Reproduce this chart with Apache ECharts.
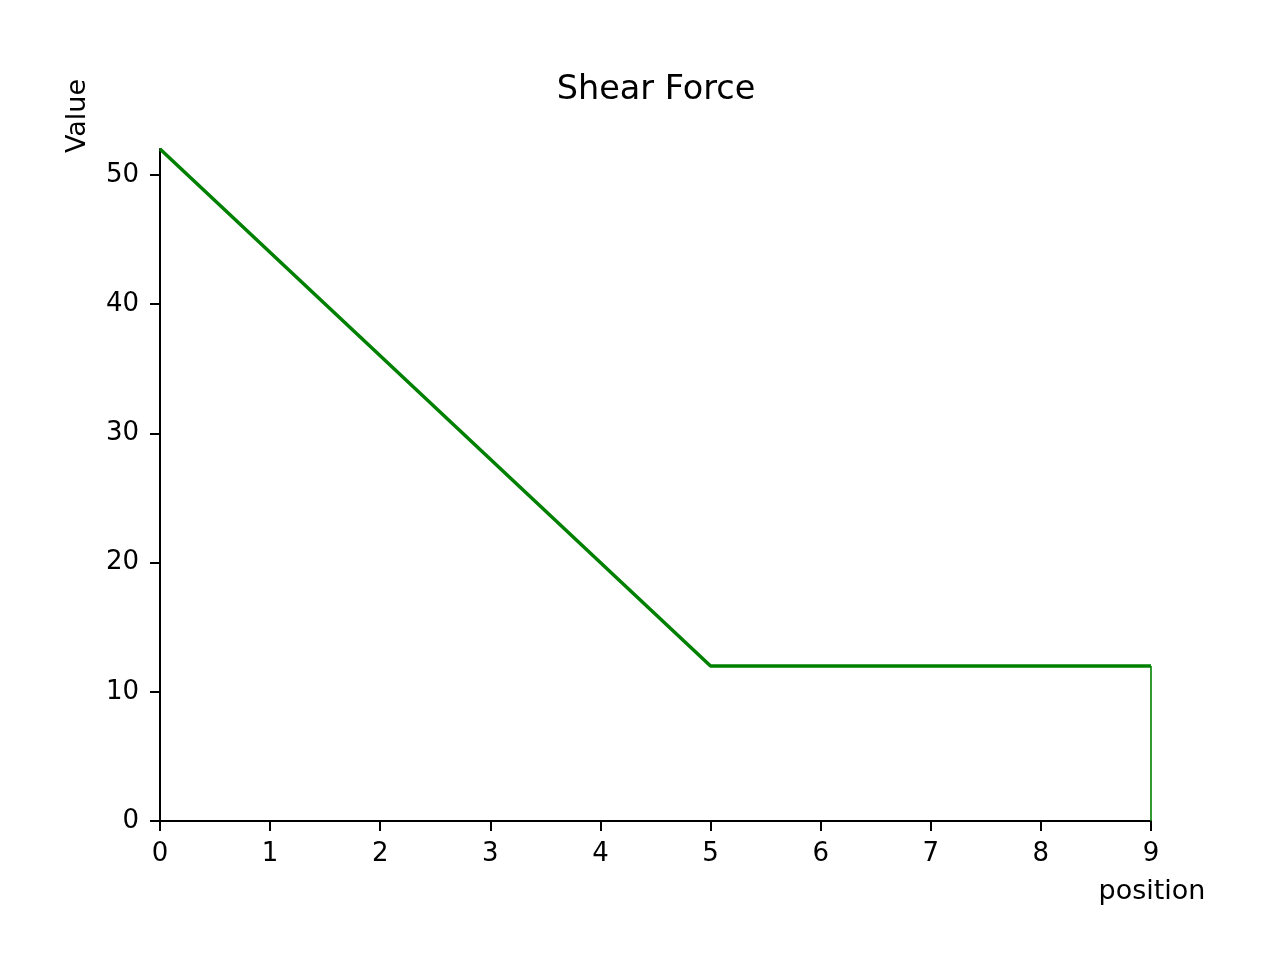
<!DOCTYPE html>
<html>
<head>
<meta charset="utf-8">
<script src="https://cdn.jsdelivr.net/npm/echarts@6/dist/echarts.min.js"></script>
<style>
html,body{margin:0;padding:0;background:#fff;}
#chart{width:1280px;height:960px;}
</style>
</head>
<body>
<div id="chart"></div>
<script>
const titleText = 'Shear Force';
const xName = 'position';
const yName = 'Value';
const positions = [0, 5, 9];
const shear = [52, 12, 12];
const dropPositions = [9, 9];
const dropValues = [12, 0];
const xTicks = [0, 1, 2, 3, 4, 5, 6, 7, 8, 9];
const yTicks = [0, 10, 20, 30, 40, 50];

const font = 'DejaVu Sans';
const chart = echarts.init(document.getElementById('chart'), null, {renderer: 'canvas'});
const grid = {left: 160, right: 129, top: 149, bottom: 139};
const mainData = positions.map((p, i) => [p, shear[i]]);
const dropData = dropPositions.map((p, i) => [p, dropValues[i]]);

chart.setOption({
  backgroundColor: '#ffffff',
  animation: false,
  textStyle: {fontFamily: font},
  title: {
    text: titleText,
    left: 651,
    textAlign: 'center',
    top: 68,
    textStyle: {fontFamily: font, fontSize: 33.5, fontWeight: 'normal', color: '#000'}
  },
  grid: grid,
  xAxis: {
    type: 'value',
    min: 0, max: 9, interval: 1,
    axisLine: {show: true, onZero: false, lineStyle: {color: '#000', width: 2}},
    axisTick: {show: true, inside: false, length: 10, lineStyle: {color: '#000', width: 2}, customValues: xTicks},
    axisLabel: {color: '#000', fontSize: 26, fontFamily: font, margin: 20, customValues: xTicks},
    splitLine: {show: false}
  },
  yAxis: {
    type: 'value',
    min: 0, max: 52,
    axisLine: {show: true, onZero: false, lineStyle: {color: '#000', width: 2}},
    axisTick: {show: true, inside: false, length: 10, lineStyle: {color: '#000', width: 2}, customValues: yTicks},
    axisLabel: {color: '#000', fontSize: 26, fontFamily: font, margin: 21, customValues: yTicks},
    splitLine: {show: false}
  },
  graphic: [
    {type: 'text', x: 1152, y: 892, style: {text: xName, fontFamily: font, fontSize: 27, fill: '#000', textAlign: 'center', textVerticalAlign: 'middle'}},
    {type: 'text', x: 78, y: 116, rotation: Math.PI / 2, style: {text: yName, fontFamily: font, fontSize: 27, fill: '#000', textAlign: 'center', textVerticalAlign: 'middle'}}
  ],
  series: [
    {type: 'line', data: mainData, showSymbol: false, lineStyle: {color: '#008000', width: 3.5}, itemStyle: {color: '#008000'}, z: 3},
    {type: 'line', data: dropData, showSymbol: false, lineStyle: {color: '#008000', width: 1.6}, itemStyle: {color: '#008000'}, z: 3}
  ]
});
</script>
</body>
</html>
